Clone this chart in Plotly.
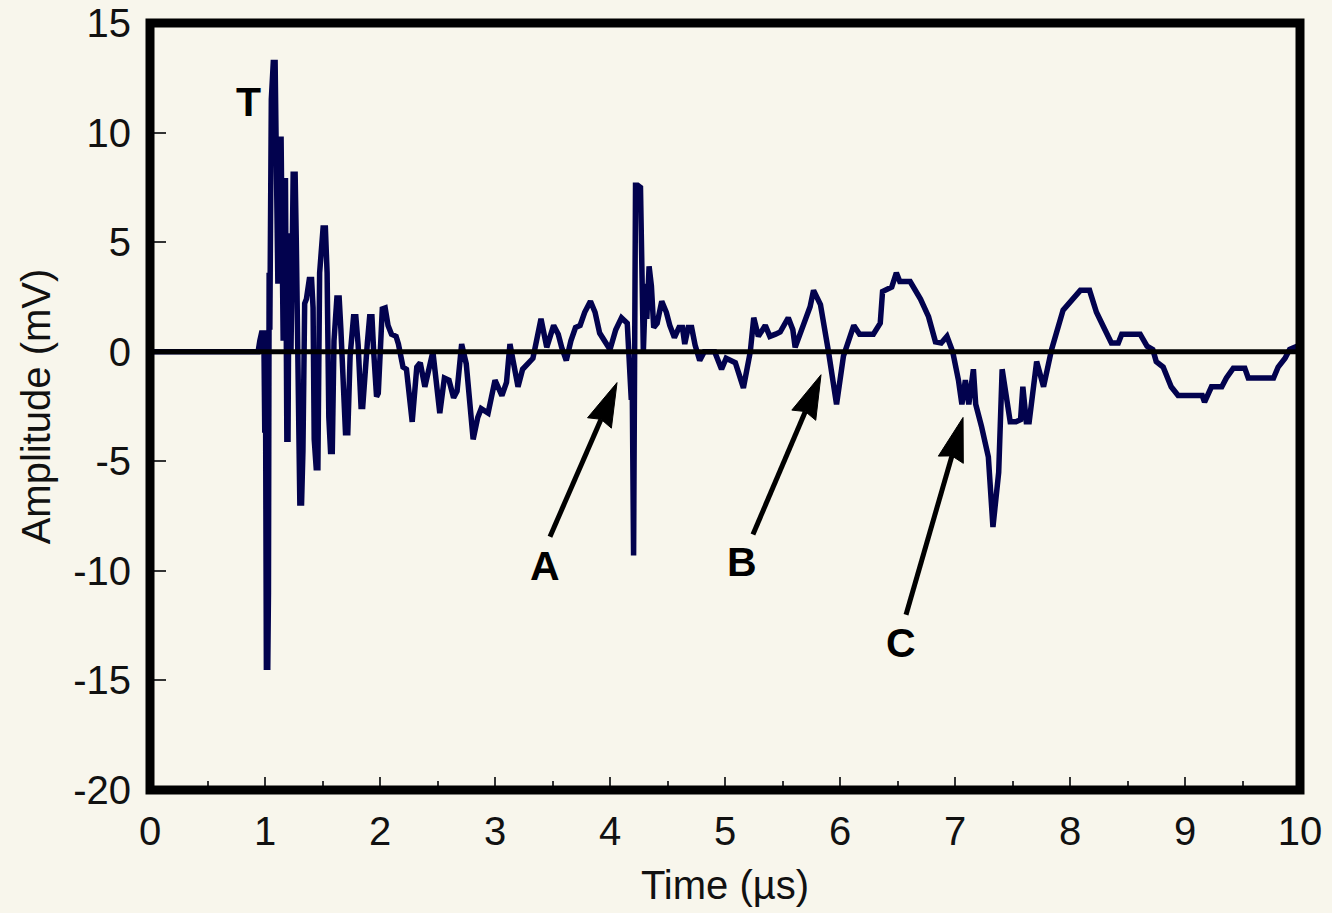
import math
import plotly.graph_objects as go

# Received waveform, read as (time in microseconds, amplitude in mV).
# Split into three stretches: the transmitted burst, the middle echoes, the tail.
burst_t = [
    0.00, 0.94, 0.955, 0.97, 0.99, 0.998, 1.004, 1.012, 1.024, 1.030,
    1.036, 1.042, 1.055, 1.072, 1.088, 1.096, 1.104, 1.112, 1.122, 1.140,
    1.150, 1.158, 1.168, 1.178, 1.190, 1.200, 1.210, 1.218, 1.226, 1.245,
    1.262, 1.272, 1.282, 1.292, 1.303, 1.318, 1.330, 1.345, 1.360, 1.385,
    1.405, 1.418, 1.428, 1.445, 1.460, 1.475, 1.505, 1.525, 1.540, 1.555,
    1.570, 1.585, 1.600, 1.625, 1.645, 1.660, 1.675, 1.700, 1.720, 1.740,
    1.770, 1.790, 1.810, 1.835, 1.850, 1.865, 1.890, 1.910, 1.930, 1.945,
    1.970, 1.985,
]
burst_mv = [
    0.0, 0.0, 0.5, 0.85, 0.85, -3.7, -0.5, -14.4, -14.4, -11.0,
    3.6, 1.0, 11.5, 13.2, 13.2, 8.0, 3.1, 3.1, 9.7, 9.7,
    4.5, 0.5, 7.8, 7.8, -4.0, -4.0, 5.4, 1.8, 0.0, 8.1,
    8.1, 5.1, -0.4, -1.4, -6.9, -6.9, -4.5, 2.2, 2.4, 3.3,
    3.3, 2.0, -4.0, -5.3, -5.3, 3.6, 5.65, 5.65, 3.6, -3.0,
    -4.55, -4.55, 0.5, 2.45, 2.45, 1.0, -1.2, -3.7, -3.7, -0.2,
    1.6, 1.6, 0.3, -2.5, -2.5, -1.0, 0.4, 1.6, 1.6, 0.0,
    -2.05, -1.9,
]

middle_t = [
    2.020, 2.045, 2.070, 2.100, 2.140, 2.160, 2.200, 2.230, 2.280, 2.320,
    2.350, 2.390, 2.420, 2.460, 2.520, 2.560, 2.600, 2.640, 2.670, 2.710,
    2.750, 2.810, 2.850, 2.880, 2.940, 3.000, 3.060, 3.100, 3.130, 3.160,
    3.200, 3.240, 3.280, 3.330, 3.400, 3.450, 3.510, 3.550, 3.580, 3.620,
    3.660, 3.700, 3.740, 3.780, 3.830, 3.870, 3.910, 3.960, 4.000, 4.050,
    4.100, 4.150, 4.170, 4.185, 4.192, 4.205, 4.222, 4.240, 4.265, 4.280,
    4.290, 4.310, 4.320, 4.340, 4.360, 4.380, 4.410, 4.450, 4.490, 4.520,
    4.560, 4.600, 4.630, 4.650, 4.680, 4.710, 4.740, 4.780, 4.820, 4.870,
    4.910,
]
middle_mv = [
    1.95, 2.0, 1.2, 0.8, 0.7, 0.35, -0.7, -0.8, -3.2, -0.7,
    -0.5, -1.6, -0.8, 0.0, -2.8, -1.2, -1.3, -2.1, -1.8, 0.35,
    -0.55, -4.0, -3.0, -2.6, -2.8, -1.3, -2.0, -1.4, 0.35, -0.4,
    -1.6, -0.8, -0.55, -0.3, 1.5, 0.2, 1.2, 0.8, 0.2, -0.4,
    0.5, 1.1, 1.2, 1.8, 2.3, 1.8, 0.85, 0.4, 0.1, 1.0,
    1.55, 1.3, -0.3, -2.2, -0.6, -9.3, 7.6, 7.6, 7.5, 1.0,
    0.0, 3.1, 1.5, 3.9, 3.0, 1.1, 1.3, 2.3, 1.8, 1.2,
    0.65, 1.1, 1.1, 0.35, 1.1, 1.1, 0.3, -0.4, 0.0, 0.0,
    0.0,
]

tail_t = [
    4.970, 5.010, 5.050, 5.090, 5.160, 5.220, 5.250, 5.290, 5.350, 5.390,
    5.440, 5.480, 5.550, 5.590, 5.610, 5.680, 5.740, 5.770, 5.830, 5.900,
    5.970, 6.030, 6.120, 6.170, 6.290, 6.350, 6.370, 6.450, 6.490, 6.520,
    6.610, 6.700, 6.770, 6.830, 6.880, 6.930, 6.980, 7.030, 7.060, 7.090,
    7.120, 7.160, 7.180, 7.230, 7.290, 7.330, 7.380, 7.410, 7.460, 7.480,
    7.530, 7.570, 7.590, 7.620, 7.645, 7.710, 7.770, 7.810, 7.840, 7.940,
    8.010, 8.090, 8.170, 8.230, 8.290, 8.360, 8.420, 8.450, 8.610, 8.670,
    8.720, 8.750, 8.810, 8.880, 8.940, 9.150, 9.170, 9.230, 9.320, 9.360,
    9.420, 9.520, 9.550, 9.770, 9.810, 9.870, 9.910, 9.960, 10.00,
]
tail_mv = [
    -0.8, -0.3, -0.4, -0.5, -1.65, 0.0, 1.55, 0.7, 1.2, 0.7,
    0.8, 0.9, 1.55, 1.0, 0.2, 1.15, 2.05, 2.8, 2.15, 0.0,
    -2.4, -0.2, 1.2, 0.8, 0.8, 1.3, 2.75, 2.95, 3.6, 3.2,
    3.2, 2.4, 1.6, 0.45, 0.4, 0.7, 0.0, -1.3, -2.4, -1.3,
    -2.4, -0.8, -2.4, -3.4, -4.8, -8.0, -5.5, -0.8, -2.8, -3.2,
    -3.2, -3.1, -1.6, -3.2, -3.2, -0.45, -1.6, -0.6, 0.1, 1.9,
    2.3, 2.8, 2.8, 1.8, 1.15, 0.4, 0.4, 0.8, 0.8, 0.25,
    0.1, -0.45, -0.7, -1.6, -2.0, -2.0, -2.3, -1.6, -1.6, -1.2,
    -0.75, -0.75, -1.2, -1.2, -0.7, -0.3, 0.1, 0.2, 0.3,
]

# Letter labels (T = transmitted pulse, A/B/C = echoes)
label_text = ["T", "A", "B", "C"]
label_t = [0.86, 3.435, 5.148, 6.53]
label_mv = [11.4, -9.76, -9.58, -13.3]

# Arrows from each echo letter towards its feature on the trace
arrow_tail_t = [3.478, 5.243, 6.574]
arrow_tail_mv = [-8.44, -8.34, -12.0]
arrow_tip_t = [4.061, 5.835, 7.07]
arrow_tip_mv = [-1.41, -1.05, -3.0]

x_ticks = list(range(0, 11))
x_tick_text = [str(v) for v in x_ticks]
y_ticks = [-20, -15, -10, -5, 0, 5, 10, 15]
y_tick_text = ["-20", "-15", "-10", "-5", "0", "5", "10", "15"]

assert len(burst_t) == len(burst_mv)
assert len(middle_t) == len(middle_mv)
assert len(tail_t) == len(tail_mv)

time_us = burst_t + middle_t + tail_t
amplitude_mv = burst_mv + middle_mv + tail_mv

W, H = 1332, 913
MARGIN = dict(l=150, r=32, t=23, b=123, pad=0)
X_RANGE = [0, 10]
Y_RANGE = [-20, 15]
PX_PER_T = (W - MARGIN["l"] - MARGIN["r"]) / (X_RANGE[1] - X_RANGE[0])
PX_PER_MV = (H - MARGIN["t"] - MARGIN["b"]) / (Y_RANGE[1] - Y_RANGE[0])

BG = "#F8F6EC"
TRACE = "#02024E"
FONT = "Liberation Sans, Arial, sans-serif"


def arrow_shapes(t0, v0, t1, v1, head_len=44, head_half=13, notch=4, width=5):
    """Shaft line plus a filled head, built in pixel space so the head keeps its shape."""
    x0, y0 = t0 * PX_PER_T, v0 * PX_PER_MV
    x1, y1 = t1 * PX_PER_T, v1 * PX_PER_MV
    dx, dy = x1 - x0, y1 - y0
    n = math.hypot(dx, dy)
    ux, uy = dx / n, dy / n
    nx, ny = -uy, ux
    bx, by = x1 - head_len * ux, y1 - head_len * uy
    kx, ky = x1 - (head_len - notch) * ux, y1 - (head_len - notch) * uy
    pts = [
        (x1, y1),
        (bx + head_half * nx, by + head_half * ny),
        (kx, ky),
        (bx - head_half * nx, by - head_half * ny),
    ]
    path = "M " + " L ".join(
        f"{x / PX_PER_T:.5f},{y / PX_PER_MV:.5f}" for x, y in pts) + " Z"
    return [
        dict(type="line", xref="x", yref="y", x0=t0, y0=v0,
             x1=kx / PX_PER_T, y1=ky / PX_PER_MV,
             line=dict(color="black", width=width), layer="above"),
        dict(type="path", xref="x", yref="y", path=path,
             fillcolor="black", line=dict(color="black", width=1), layer="above"),
    ]


fig = go.Figure()
fig.add_trace(go.Scatter(
    x=time_us, y=amplitude_mv, mode="lines",
    line=dict(color=TRACE, width=5.5), hoverinfo="skip", showlegend=False,
))

shapes = [
    # zero reference line over the trace
    dict(type="line", xref="paper", yref="y", x0=0, x1=1, y0=0, y1=0,
         line=dict(color="black", width=5), layer="above"),
    # heavy frame round the plot area
    dict(type="rect", xref="paper", yref="paper", x0=0, x1=1, y0=0, y1=1,
         line=dict(color="black", width=9), layer="above"),
]
for i in range(len(arrow_tip_t)):
    shapes += arrow_shapes(arrow_tail_t[i], arrow_tail_mv[i],
                           arrow_tip_t[i], arrow_tip_mv[i])

annotations = [
    dict(x=t, y=v, xref="x", yref="y", text=s, showarrow=False,
         font=dict(family=FONT, size=41, color="black", weight="bold"),
         xanchor="center", yanchor="middle")
    for s, t, v in zip(label_text, label_t, label_mv)
]

fig.update_layout(
    width=W, height=H, margin=MARGIN,
    paper_bgcolor=BG, plot_bgcolor=BG,
    font=dict(family=FONT, color="#111111", size=40),
    shapes=shapes, annotations=annotations,
    xaxis=dict(
        range=X_RANGE, tickmode="array", tickvals=x_ticks, ticktext=x_tick_text,
        ticks="inside", ticklen=13, tickwidth=1.5, tickcolor="#333333",
        minor=dict(ticks="inside", dtick=0.5, tick0=0, ticklen=9,
                   tickwidth=1.5, tickcolor="#333333"),
        showgrid=False, zeroline=False, showline=False, automargin=False,
        tickfont=dict(size=40), ticklabelstandoff=14,
        title=dict(text="Time (µs)", font=dict(size=40), standoff=18),
    ),
    yaxis=dict(
        range=Y_RANGE, tickmode="array", tickvals=y_ticks, ticktext=y_tick_text,
        ticks="inside", ticklen=16, tickwidth=1.5, tickcolor="#333333",
        showgrid=False, zeroline=False, showline=False, automargin=False,
        tickfont=dict(size=40), ticklabelstandoff=18,
        title=dict(text="Amplitude (mV)", font=dict(size=40), standoff=10),
    ),
)

fig.write_html("out.html", config={"displayModeBar": False})
